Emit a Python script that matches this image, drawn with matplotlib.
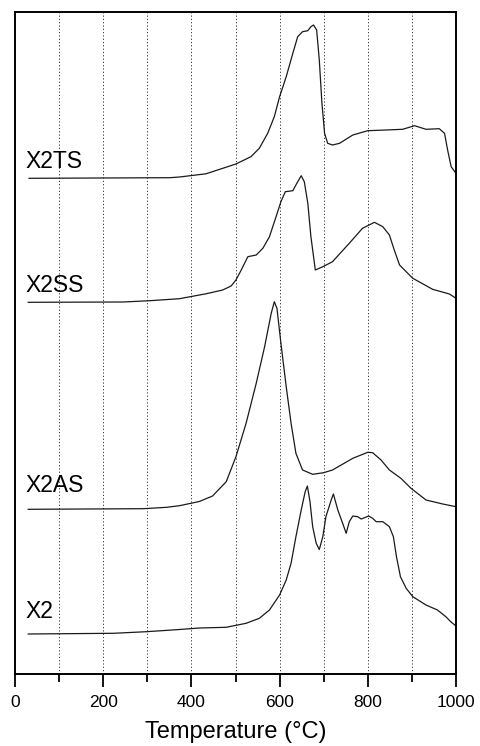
import matplotlib
matplotlib.use("Agg")
import matplotlib.pyplot as plt
from matplotlib.ticker import MultipleLocator

plt.rcParams['font.family'] = ['Liberation Sans', 'DejaVu Sans']

# Stacked TPD-style traces (arbitrary units, vertically offset)
x2ts_t = [32, 351, 373, 433, 501, 535, 554, 573, 588, 600, 615, 630, 641, 652, 664, 671,
          677, 684, 690, 696, 702, 709, 720, 736, 766, 800, 841, 879, 906, 932, 962, 974,
          981, 989, 1000]
x2ts_y = [495.7, 496.3, 497, 500.2, 510, 517.3, 525.7, 540.7, 557.3, 577.3, 597.3, 620.7,
          637.3, 642.3, 643.3, 647.3, 649, 644, 614, 570.7, 540.7, 530.7, 529, 530.7, 539,
          543.3, 544, 544.7, 548.3, 544.7, 545.3, 540.7, 524, 507.3, 500.7]

x2ss_t = [30, 245, 306, 373, 433, 471, 490, 501, 513, 528, 547, 562, 577, 592, 603, 613,
          630, 639, 649, 656, 664, 671, 681, 698, 720, 758, 788, 815, 834, 849, 860, 872,
          902, 947, 985, 1000]
x2ss_y = [371.7, 372, 373.3, 375.3, 380.2, 384, 388, 394, 404, 417.3, 419, 425.7, 437.3,
          457.3, 472.3, 482.3, 483.3, 490.7, 498.3, 492.3, 470.7, 437.3, 404, 407.3, 412.3,
          430.7, 445.7, 451.7, 447.3, 439, 424, 409, 395.7, 384.7, 380, 375.7]

x2as_t = [30, 291, 344, 373, 418, 448, 479, 501, 524, 547, 566, 581, 588, 594, 603, 615,
          626, 637, 652, 675, 700, 720, 766, 800, 811, 830, 849, 875, 898, 932, 970, 1000]
x2as_y = [164.7, 165.3, 166.7, 168.3, 172.5, 178, 192.3, 217.3, 250.7, 290.7, 327.3, 360.7,
          372.3, 365.7, 330.7, 287.3, 250.7, 220.7, 204, 199.7, 201.3, 204, 215.7, 221.7,
          221.3, 214, 204, 195.7, 185.7, 174, 170, 167.3]

x2_t = [30, 223, 298, 373, 418, 479, 524, 554, 577, 600, 615, 626, 637, 649, 658, 663, 669,
        675, 683, 690, 698, 705, 717, 722, 732, 743, 751, 758, 766, 777, 785, 802, 811, 819,
        834, 849, 858, 865, 874, 887, 902, 932, 958, 977, 988, 1000]
x2_y = [40, 40.7, 42.3, 44.5, 46, 46.7, 50.7, 55.7, 64, 79, 94, 110.7, 137.3, 164, 182.3,
        188, 172, 147.3, 130.7, 124.5, 137.3, 157.3, 174, 180, 164, 150.7, 140.7, 152.3, 158,
        157.3, 155, 158, 155.7, 152.3, 152.3, 147.3, 137.3, 117.3, 97.3, 85.7, 77.3, 69, 64,
        57.3, 52.3, 48]

sample_names = ["X2TS", "X2SS", "X2AS", "X2"]
label_heights = [505.7, 381.7, 182.3, 55.7]

fig = plt.figure(figsize=(4.8, 7.46), dpi=100)
ax = fig.add_axes([15 / 480, 1 - 674 / 746, 441 / 480, 662 / 746])

series = [(x2ts_t, x2ts_y), (x2ss_t, x2ss_y), (x2as_t, x2as_y), (x2_t, x2_y)]
for (t, y) in series:
    ax.plot(t, y, color="#1a1a1a", linewidth=0.9, solid_joinstyle="round")

for name, h in zip(sample_names, label_heights):
    ax.text(22.7, h, name, fontsize=16.5, ha="left", va="baseline", color="black")

ax.set_xlim(0, 1000)
ax.set_ylim(0, 662)

ax.xaxis.set_major_locator(MultipleLocator(200))
ax.xaxis.set_minor_locator(MultipleLocator(100))
for gx in range(100, 1000, 100):
    ax.axvline(gx, color="#333333", linestyle=(0, (1.2, 2.2)), linewidth=0.7, zorder=0)

ax.set_yticks([])
ax.tick_params(axis="x", which="major", direction="out", length=9, width=1.3,
               labelsize=12.5, pad=6)
ax.tick_params(axis="x", which="minor", direction="out", length=5.5, width=1.3)
for sp in ax.spines.values():
    sp.set_linewidth(1.4)

ax.set_xlabel("Temperature (°C)", fontsize=17, labelpad=8)

fig.savefig("out.png", dpi=100)
